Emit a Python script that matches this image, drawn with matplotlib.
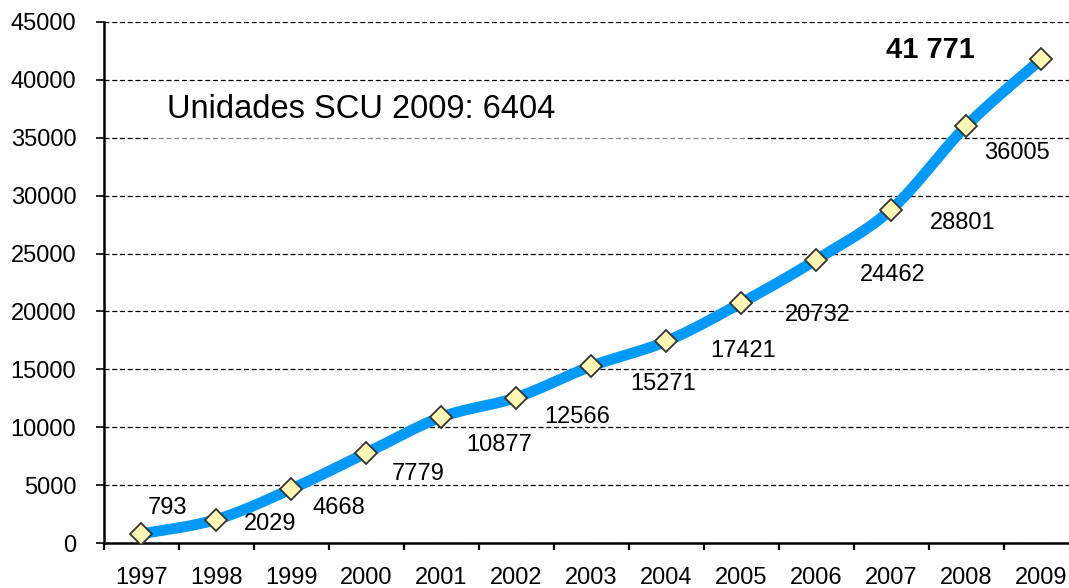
import numpy as np
import matplotlib
matplotlib.use("Agg")
import matplotlib.pyplot as plt
from matplotlib.patches import Rectangle

years = ["1997", "1998", "1999", "2000", "2001", "2002", "2003",
         "2004", "2005", "2006", "2007", "2008", "2009"]
values = [793, 2029, 4668, 7779, 10877, 12566, 15271,
          17421, 20732, 24462, 28801, 36005, 41771]
point_labels = ["793", "2029", "4668", "7779", "10877", "12566", "15271",
                "17421", "20732", "24462", "28801", "36005", "41 771"]
annotation = "Unidades SCU 2009: 6404"
y_ticks = [0, 5000, 10000, 15000, 20000, 25000, 30000, 35000, 40000, 45000]

# label offsets in pixels (dx right, dy up)
label_offsets = [(26, 26), (54, -4), (47, -19), (52, -21), (58, -28), (61, -19),
                 (72, -18), (77, -10), (77, -12), (77, -15), (72, -13), (51, -27),
                 (-111, 9)]

plt.rcParams['font.family'] = ['Liberation Sans', 'DejaVu Sans']

W, H, DPI = 1069, 588, 100
fig = plt.figure(figsize=(W / DPI, H / DPI), dpi=DPI)
ax = fig.add_axes([104 / W, 1 - 543 / H, (1078.5 - 104) / W, (543 - 22) / H])

x = np.arange(len(values))
y = np.array(values, dtype=float)

# Smoothed line (Bezier with Catmull-Rom control points, like Excel smoothing)
def smooth(xs, ys, n=40):
    px = np.concatenate([[xs[0]], xs, [xs[-1]]])
    py = np.concatenate([[ys[0]], ys, [ys[-1]]])
    outx, outy = [], []
    t = np.linspace(0, 1, n)
    for i in range(1, len(px) - 2):
        p0 = np.array([px[i], py[i]])
        p3 = np.array([px[i + 1], py[i + 1]])
        p1 = p0 + (np.array([px[i + 1], py[i + 1]]) - np.array([px[i - 1], py[i - 1]])) / 6
        p2 = p3 - (np.array([px[i + 2], py[i + 2]]) - np.array([px[i], py[i]])) / 6
        b = ((1 - t) ** 3)[:, None] * p0 + (3 * (1 - t) ** 2 * t)[:, None] * p1 \
            + (3 * (1 - t) * t ** 2)[:, None] * p2 + (t ** 3)[:, None] * p3
        outx.extend(b[:, 0]); outy.extend(b[:, 1])
    return np.array(outx), np.array(outy)

sx, sy = smooth(x.astype(float), y)
ax.plot(sx, sy, color='#0099F8', lw=7.8, solid_capstyle='butt', zorder=3)
ax.plot(x, y, linestyle='none', marker='D', markersize=11,
        markerfacecolor='#FFF8B4', markeredgecolor='#333333',
        markeredgewidth=1.3, zorder=4)

ax.set_xlim(-0.5, len(values) - 0.5)
ax.set_ylim(0, 45000)

FS = 17
ax.set_yticks(y_ticks)
ax.set_yticklabels([str(v) for v in y_ticks], fontsize=FS)
ax.yaxis.grid(True, color='black', linestyle=(0, (4, 2.2)), linewidth=0.9)
ax.set_axisbelow(True)

ax.set_xticks(np.arange(-0.5, len(values), 1.0))
ax.set_xticklabels([])
ax.set_xticks(x, minor=True)
ax.set_xticklabels(years, minor=True, fontsize=FS)
ax.tick_params(axis='x', which='major', length=5, width=1.6, direction='out')
ax.tick_params(axis='x', which='minor', length=0, pad=17)
ax.tick_params(axis='y', length=6, width=1.2, direction='out', pad=14)

for s in ['top', 'right']:
    ax.spines[s].set_visible(False)
ax.spines['left'].set_linewidth(1.8)
ax.spines['bottom'].set_linewidth(1.8)

# translucent text box region
ax.add_patch(Rectangle((0.087, 34800), 8.07 - 0.087, 39570 - 34800,
                       facecolor='white', alpha=0.55, edgecolor='none', zorder=2))
ax.text(0.34, 37400, annotation, fontsize=23.5, va='center', ha='left', zorder=5)

for i, (lab, (dx, dy)) in enumerate(zip(point_labels, label_offsets)):
    bold = i == len(values) - 1
    ax.annotate(lab, (x[i], y[i]), xytext=(dx * 72 / DPI, dy * 72 / DPI),
                textcoords='offset points', ha='center', va='center',
                fontsize=21 if bold else FS,
                fontweight='bold' if bold else 'normal', zorder=5,
                annotation_clip=False)

fig.savefig('out.png', dpi=DPI)
